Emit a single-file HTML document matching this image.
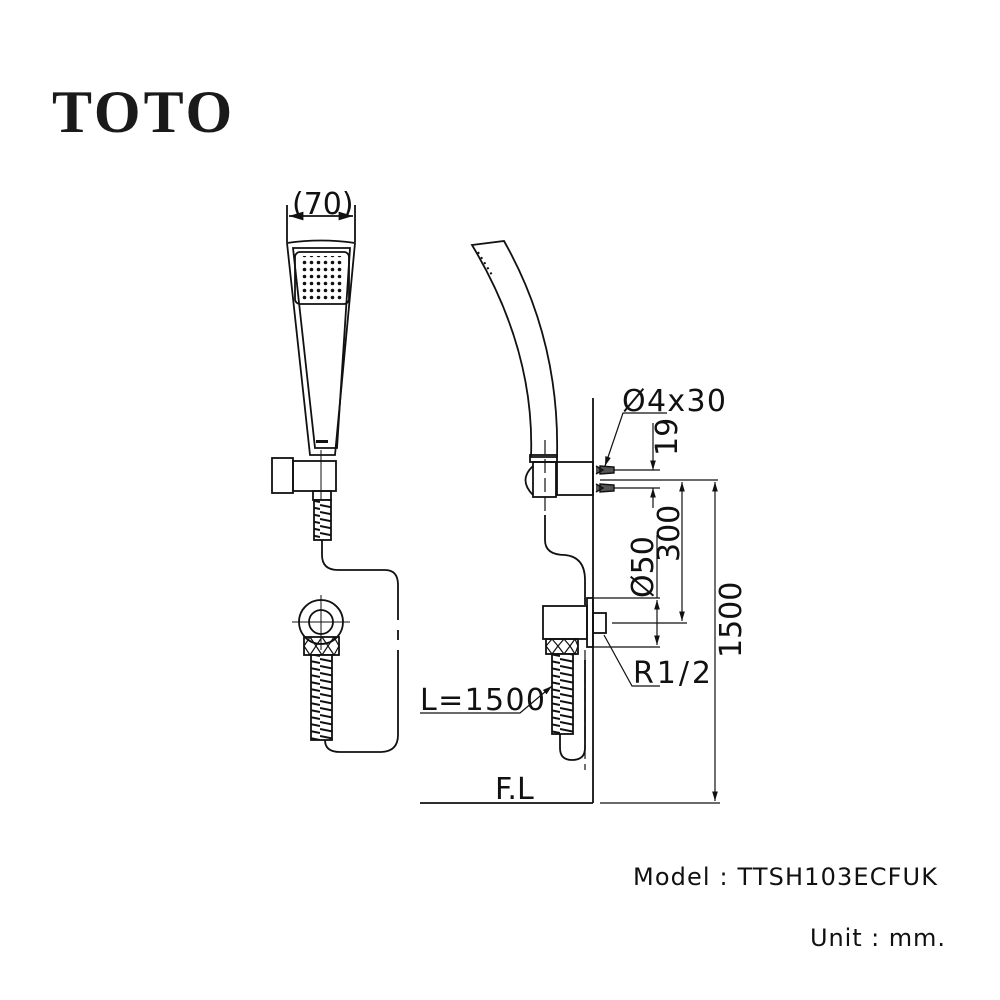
<!DOCTYPE html>
<html><head><meta charset="utf-8"><style>
html,body{margin:0;padding:0;background:#fff;}
svg{display:block;}
</style></head><body>
<svg width="1000" height="1000" viewBox="0 0 1000 1000" xmlns="http://www.w3.org/2000/svg">
<defs>
<marker id="a" viewBox="0 0 10 10" refX="10" refY="5" markerWidth="8" markerHeight="8" orient="auto-start-reverse"><path d="M0,2 L10,5 L0,8 z" fill="#111"/></marker>
<pattern id="coil" width="20" height="7" patternUnits="userSpaceOnUse"><rect width="20" height="7" fill="#fff"/><path d="M0,1 L20,5" stroke="#111" stroke-width="2"/></pattern>
<pattern id="dots" width="7" height="7" patternUnits="userSpaceOnUse"><circle cx="3.5" cy="3.5" r="1.8" fill="#111"/></pattern>
</defs>
<text x="52" y="132" font-family="Liberation Serif, serif" font-weight="bold" font-size="60" letter-spacing="3" fill="#1a1a1a">TOTO</text>

<g fill="none" stroke="#111" stroke-width="1.8">
<!-- LEFT VIEW -->
<line x1="287" y1="205" x2="287" y2="242"/><line x1="355" y1="205" x2="355" y2="242"/>
<line x1="289" y1="216" x2="353" y2="216" marker-start="url(#a)" marker-end="url(#a)"/>
<path d="M287,243 Q321,238 355,243 L335,455 L310,455 Z"/>
<path d="M293,248 L350,248 L337,448 L315,448 Z"/>
<rect x="295" y="252" width="54" height="52" rx="5"/>
<rect x="300" y="256" width="44" height="44" fill="url(#dots)" stroke="none"/>
<rect x="316" y="440" width="12" height="3" fill="#111" stroke="none"/>
<rect x="272" y="458" width="21" height="35"/>
<rect x="293" y="461" width="43" height="30"/>
<line x1="321" y1="450" x2="321" y2="500" stroke-width="1"/>
<rect x="313" y="491" width="18" height="9"/>
<rect x="314" y="500" width="17" height="40" fill="url(#coil)"/>
<path d="M322,540 L322,555 Q322,570 338,570 L385,570 Q398,570 398,585 L398,620 M398,630 L398,640 M398,650 L398,735 Q398,752 380,752 L340,752 Q325,752 325,740"/>
<circle cx="321" cy="622" r="22"/><circle cx="321" cy="622" r="12"/>
<line x1="292" y1="622" x2="350" y2="622" stroke-width="1"/><line x1="321" y1="595" x2="321" y2="650" stroke-width="1"/>
<rect x="304" y="637" width="35" height="18"/>
<path d="M304,646 L310,637 L316,646 L310,655 Z M316,646 L322,637 L328,646 L322,655 Z M328,646 L334,637 L339,646 L334,655 Z" stroke-width="1.2"/>
<rect x="311" y="655" width="21" height="85" fill="url(#coil)"/>

<!-- RIGHT VIEW -->
<line x1="593" y1="398" x2="593" y2="803"/>
<line x1="420" y1="803" x2="593" y2="803"/>
<line x1="600" y1="803" x2="720" y2="803" stroke-width="1.2"/>
<path d="M472,245 L504,241 Q560,340 557,457 L531,457 Q535,350 472,245 Z"/>
<path d="M478,252 L492,275" stroke-width="2" stroke-dasharray="2 4"/>
<rect x="530" y="455" width="27" height="7"/>
<rect x="533" y="462" width="23" height="35"/>
<path d="M533,466 Q518,480 533,495"/>
<rect x="557" y="462" width="36" height="33"/>
<line x1="545" y1="440" x2="545" y2="515" stroke-dasharray="14 5" stroke-width="1.2"/>
<path d="M545,515 L545,540 Q545,555 565,555 Q585,557 585,580 L585,605"/>
<path d="M596,466 L603,470 L596,474 M600,466 L614,467 L614,473 L600,474 Z M596,484 L603,488 L596,492 M600,484 L614,485 L614,491 L600,492 Z" stroke-width="1.4" fill="#555"/>
<line x1="614" y1="470" x2="660" y2="470" stroke-width="1.2"/><line x1="614" y1="488" x2="660" y2="488" stroke-width="1.2"/>
<line x1="653" y1="423" x2="653" y2="470" marker-end="url(#a)" stroke-width="1.2"/>
<line x1="653" y1="508" x2="653" y2="488" marker-end="url(#a)" stroke-width="1.2"/>
<line x1="600" y1="480" x2="718" y2="480" stroke-width="1.2"/>
<line x1="682" y1="482" x2="682" y2="621" marker-start="url(#a)" marker-end="url(#a)" stroke-width="1.2"/>
<line x1="715" y1="482" x2="715" y2="801" marker-start="url(#a)" marker-end="url(#a)" stroke-width="1.2"/>
<line x1="593" y1="598" x2="660" y2="598" stroke-width="1.2"/><line x1="593" y1="647" x2="660" y2="647" stroke-width="1.2"/>
<line x1="657" y1="535" x2="657" y2="598" stroke-width="1.2"/>
<line x1="657" y1="600" x2="657" y2="645" marker-start="url(#a)" marker-end="url(#a)" stroke-width="1.2"/>
<line x1="612" y1="623" x2="687" y2="623" stroke-width="1.2"/>
<rect x="587" y="598" width="6" height="49"/>
<rect x="543" y="606" width="44" height="33"/>
<rect x="593" y="613" width="13" height="20"/>
<rect x="546" y="639" width="32" height="15"/>
<path d="M546,646 L552,639 L558,646 L552,654 Z M558,646 L564,639 L570,646 L564,654 Z M570,646 L575,639 L578,646 L575,654 Z" stroke-width="1.2"/>
<rect x="552" y="654" width="21" height="80" fill="url(#coil)"/>
<path d="M560,734 L560,748 Q560,760 572,760 Q585,760 585,748 L585,660"/>
<line x1="585" y1="650" x2="585" y2="770" stroke-dasharray="14 5" stroke-width="1.2"/>
<polyline points="667,413 623,413 605,466" stroke-width="1.2" marker-end="url(#a)"/>
<polyline points="660,686 632,686 604,635" stroke-width="1.2"/>
<polyline points="420,713 520,713 552,686" stroke-width="1.2" marker-end="url(#a)"/>
</g>

<g font-family="DejaVu Sans, sans-serif" font-size="30" fill="#111">
<text x="292" y="214">(70)</text>
<text x="622" y="411" textLength="104">Ø4x30</text>
<text x="633" y="683" textLength="78">R1/2</text>
<text x="420" y="710" textLength="125">L=1500</text>
<text x="495" y="799">F.L</text>
<text transform="translate(677,456) rotate(-90)">19</text>
<text transform="translate(679,562) rotate(-90)">300</text>
<text transform="translate(653,598) rotate(-90)">Ø50</text>
<text transform="translate(741,658) rotate(-90)">1500</text>
</g>
<g font-family="DejaVu Sans, sans-serif" font-size="24" fill="#111">
<text x="633" y="885" textLength="304">Model : TTSH103ECFUK</text>
<text x="810" y="946" textLength="135">Unit : mm.</text>
</g>
</svg>
</body></html>
